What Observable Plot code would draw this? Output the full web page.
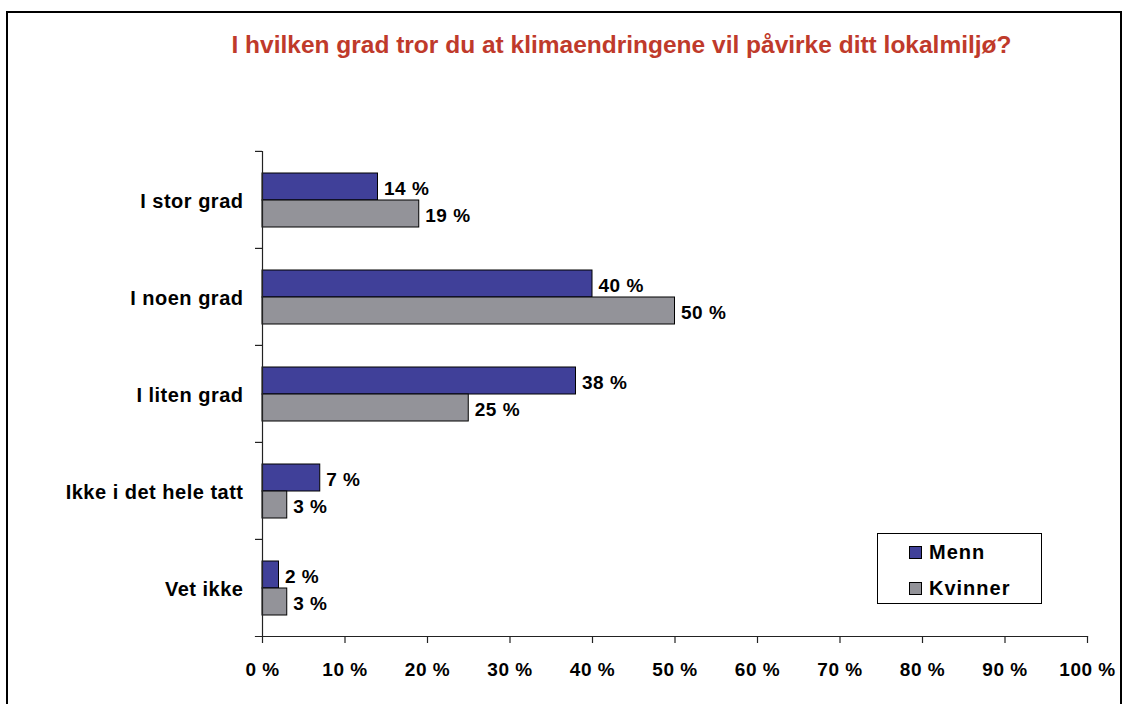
<!DOCTYPE html>
<html>
<head>
<meta charset="utf-8">
<script src="https://cdn.jsdelivr.net/npm/d3@7"></script>
<script src="https://cdn.jsdelivr.net/npm/@observablehq/plot@0.6"></script>
<style>
  html, body { margin: 0; padding: 0; background: #fff; }
  #wrap { position: relative; width: 1126px; height: 704px; overflow: hidden; font-family: "Liberation Sans", Arial, sans-serif; }
  #border { position: absolute; left: 6px; top: 11px; width: 1112px; height: 720px; border: 2px solid #000; }
  #title { position: absolute; left: 0; top: 31px; width: 1243px; text-align: center; font-size: 24.5px; line-height: 28px; font-weight: bold; color: #BF3A2B; }
  #chart { position: absolute; left: 0; top: 0; }
  #chart svg text { letter-spacing: 0.5px; }
  #legend { position: absolute; left: 877px; top: 533px; width: 165px; height: 71px; border: 1px solid #000; background: #fff; box-sizing: border-box; }
  .item { position: absolute; left: 31px; display: flex; align-items: center; font-size: 20px; line-height: 22px; font-weight: bold; letter-spacing: 1px; color: #000; }
  .sw { width: 11px; height: 11px; border: 1px solid #000; margin-right: 7px; }
</style>
</head>
<body>
<div id="wrap">
  <div id="border"></div>
  <div id="title">I hvilken grad tror du at klimaendringene vil påvirke ditt lokalmiljø?</div>
  <div id="chart"></div>
  <div id="legend"></div>
</div>
<script>
const categories = ["I stor grad", "I noen grad", "I liten grad", "Ikke i det hele tatt", "Vet ikke"];
const series = ["Menn", "Kvinner"];
const menn = [14, 40, 38, 7, 2];
const kvinner = [19, 50, 25, 3, 3];
const xTicks = [0, 10, 20, 30, 40, 50, 60, 70, 80, 90, 100];
const colors = ["#404099", "#939399"];

const rows = [];
categories.forEach((c, i) => {
  rows.push({category: c, series: "Menn", value: menn[i]});
  rows.push({category: c, series: "Kvinner", value: kvinner[i]});
});

const W = 1126, H = 704, mT = 150, mB = 68, mL = 262, mR = 39;
const step = (H - mT - mB) / categories.length;
const axisColor = "#222";
const font = {fontSize: 19, fontWeight: "bold"};

const chart = Plot.plot({
  width: W,
  height: H,
  marginTop: mT,
  marginBottom: mB,
  marginLeft: mL,
  marginRight: mR,
  style: {fontFamily: "'Liberation Sans', Arial, sans-serif", color: "#000", background: "transparent"},
  x: {domain: [0, 100], axis: null},
  y: {domain: series, axis: null, paddingInner: 0, paddingOuter: 0.75},
  fy: {domain: categories, padding: 0, axis: null, label: null},
  color: {domain: series, range: colors},
  marks: [
    Plot.barX(rows, {x: "value", y: "series", fy: "category", fill: "series", stroke: "#000", strokeWidth: 1}),
    Plot.text(rows, {x: "value", y: "series", fy: "category", text: d => `${d.value} %`, textAnchor: "start", dx: 6, dy: 2, fill: "#000", ...font}),
    Plot.ruleX([0], {stroke: axisColor, strokeWidth: 1.2}),
    Plot.frame({anchor: "bottom", facetAnchor: "bottom", insetLeft: -7, stroke: axisColor, strokeWidth: 1.2}),
    Plot.axisFy({anchor: "left", tickSize: 0, tickPadding: 19, dy: 2, label: null, fill: "#000", fontSize: 20, fontWeight: "bold"}),
    Plot.axisFy({anchor: "left", tickSize: 7, text: null, label: null, dy: -step / 2, stroke: axisColor, strokeWidth: 1.2}),
    Plot.axisX({anchor: "bottom", ticks: xTicks, tickSize: 7, tickPadding: 19, tickFormat: d => `${d} %`, label: null, stroke: axisColor, strokeWidth: 1.2, fill: "#000", ...font})
  ]
});
document.getElementById("chart").appendChild(chart);

const legend = document.getElementById("legend");
series.forEach((s, i) => {
  const it = document.createElement("div");
  it.className = "item";
  it.style.top = (i === 0 ? 7 : 43) + "px";
  const sw = document.createElement("div");
  sw.className = "sw";
  sw.style.background = colors[i];
  const t = document.createElement("span");
  t.textContent = s;
  it.appendChild(sw);
  it.appendChild(t);
  legend.appendChild(it);
});
</script>
</body>
</html>
